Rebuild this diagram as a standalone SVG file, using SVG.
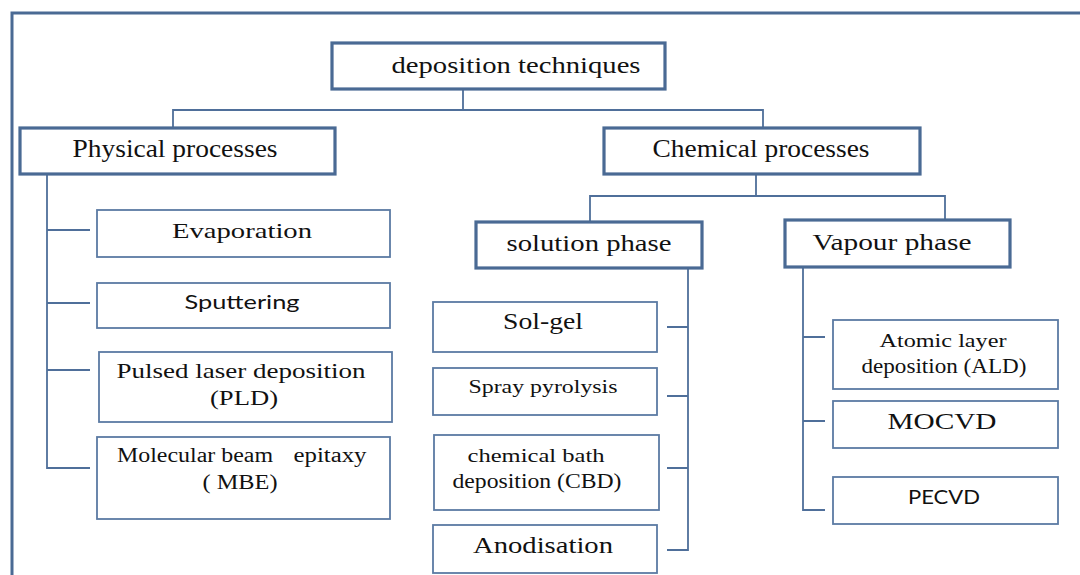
<svg xmlns="http://www.w3.org/2000/svg" width="1080" height="575" viewBox="0 0 1080 575">
  <style>
    .frame { fill: none; stroke: #4a6a94; stroke-width: 3; }
    .main { fill: #ffffff; stroke: #4a6a94; stroke-width: 3.2; }
    .leaf { fill: #ffffff; stroke: #5b7aa3; stroke-width: 1.8; }
    .link { fill: none; stroke: #4f6f9a; stroke-width: 1.8; }
    text { fill: #111111; text-anchor: middle; }
  </style>

  <rect width="1080" height="575" fill="#ffffff"/>
  <!-- outer frame (runs off the right and bottom edges) -->
  <rect class="frame" x="12" y="13" width="1100" height="620"/>

  <!-- connectors -->
  <g id="connectors">
    <!-- root to the two process groups -->
    <path class="link" d="M463 89 V110 M173 128 V110 H763 V128"/>
    <!-- physical processes branch -->
    <path class="link" d="M47 174 V468 H90 M47 230 H90 M47 303 H90 M47 370 H90"/>
    <!-- chemical processes to the two phases -->
    <path class="link" d="M756 174 V196 M590 222 V196 H945 V220"/>
    <!-- solution phase branch -->
    <path class="link" d="M688 268 V550 H667 M667 327 H688 M667 396 H688 M667 468 H688"/>
    <!-- vapour phase branch -->
    <path class="link" d="M803 267 V510 H825 M803 337 H825 M803 421 H825"/>
  </g>

  <g font-family="Liberation Serif, DejaVu Serif, serif">
    <!-- root -->
    <g id="deposition-techniques">
      <rect class="main" x="332" y="43" width="333" height="46"/>
      <text x="516" y="73" font-size="24" textLength="249" lengthAdjust="spacingAndGlyphs">deposition techniques</text>
    </g>

    <!-- physical branch -->
    <g id="physical-processes">
      <rect class="main" x="20" y="128" width="315" height="46"/>
      <text x="175" y="157" font-size="25" textLength="205" lengthAdjust="spacingAndGlyphs">Physical processes</text>
    </g>
    <g id="evaporation">
      <rect class="leaf" x="97" y="210" width="293" height="47"/>
      <text x="242" y="238" font-size="22" textLength="140" lengthAdjust="spacingAndGlyphs">Evaporation</text>
    </g>
    <g id="sputtering">
      <rect class="leaf" x="97" y="283" width="293" height="45"/>
      <text x="242" y="309" font-size="19" font-family="Lato, Liberation Sans, sans-serif" textLength="115" lengthAdjust="spacingAndGlyphs">Sputtering</text>
    </g>
    <g id="pld">
      <rect class="leaf" x="99" y="352" width="293" height="70"/>
      <text x="241" y="378" font-size="22" textLength="249" lengthAdjust="spacingAndGlyphs">Pulsed laser deposition</text>
      <text x="244" y="405" font-size="22" textLength="68" lengthAdjust="spacingAndGlyphs">(PLD)</text>
    </g>
    <g id="mbe">
      <rect class="leaf" x="97" y="437" width="293" height="82"/>
      <text x="195" y="462" font-size="20" textLength="156" lengthAdjust="spacingAndGlyphs">Molecular beam</text>
      <text x="330" y="462" font-size="20" textLength="73" lengthAdjust="spacingAndGlyphs">epitaxy</text>
      <text x="240" y="489" font-size="20" textLength="75" lengthAdjust="spacingAndGlyphs">( MBE)</text>
    </g>

    <!-- chemical branch -->
    <g id="chemical-processes">
      <rect class="main" x="604" y="128" width="316" height="46"/>
      <text x="761" y="157" font-size="25" textLength="217" lengthAdjust="spacingAndGlyphs">Chemical processes</text>
    </g>
    <g id="solution-phase">
      <rect class="main" x="476" y="222" width="226" height="46"/>
      <text x="589" y="251" font-size="24" textLength="165" lengthAdjust="spacingAndGlyphs">solution phase</text>
    </g>
    <g id="vapour-phase">
      <rect class="main" x="785" y="220" width="225" height="47"/>
      <text x="892" y="250" font-size="24" textLength="159" lengthAdjust="spacingAndGlyphs">Vapour phase</text>
    </g>

    <g id="sol-gel">
      <rect class="leaf" x="433" y="302" width="224" height="50"/>
      <text x="543" y="329" font-size="23" textLength="80" lengthAdjust="spacingAndGlyphs">Sol-gel</text>
    </g>
    <g id="spray-pyrolysis">
      <rect class="leaf" x="433" y="368" width="224" height="47"/>
      <text x="543" y="393" font-size="19" textLength="149" lengthAdjust="spacingAndGlyphs">Spray pyrolysis</text>
    </g>
    <g id="cbd">
      <rect class="leaf" x="434" y="435" width="225" height="75"/>
      <text x="536" y="462" font-size="19" textLength="137" lengthAdjust="spacingAndGlyphs">chemical bath</text>
      <text x="537" y="488" font-size="20" textLength="169" lengthAdjust="spacingAndGlyphs">deposition (CBD)</text>
    </g>
    <g id="anodisation">
      <rect class="leaf" x="433" y="525" width="224" height="48"/>
      <text x="543" y="553" font-size="23" textLength="140" lengthAdjust="spacingAndGlyphs">Anodisation</text>
    </g>

    <g id="ald">
      <rect class="leaf" x="833" y="320" width="225" height="69"/>
      <text x="943" y="347" font-size="19" textLength="127" lengthAdjust="spacingAndGlyphs">Atomic layer</text>
      <text x="944" y="373" font-size="20" textLength="165" lengthAdjust="spacingAndGlyphs">deposition (ALD)</text>
    </g>
    <g id="mocvd">
      <rect class="leaf" x="833" y="401" width="225" height="47"/>
      <text x="942" y="429" font-size="23" textLength="109" lengthAdjust="spacingAndGlyphs">MOCVD</text>
    </g>
    <g id="pecvd">
      <rect class="leaf" x="833" y="477" width="225" height="47"/>
      <text x="944" y="504" font-size="19" font-family="Lato, Liberation Sans, sans-serif" textLength="72" lengthAdjust="spacingAndGlyphs">PECVD</text>
    </g>
  </g>
</svg>
